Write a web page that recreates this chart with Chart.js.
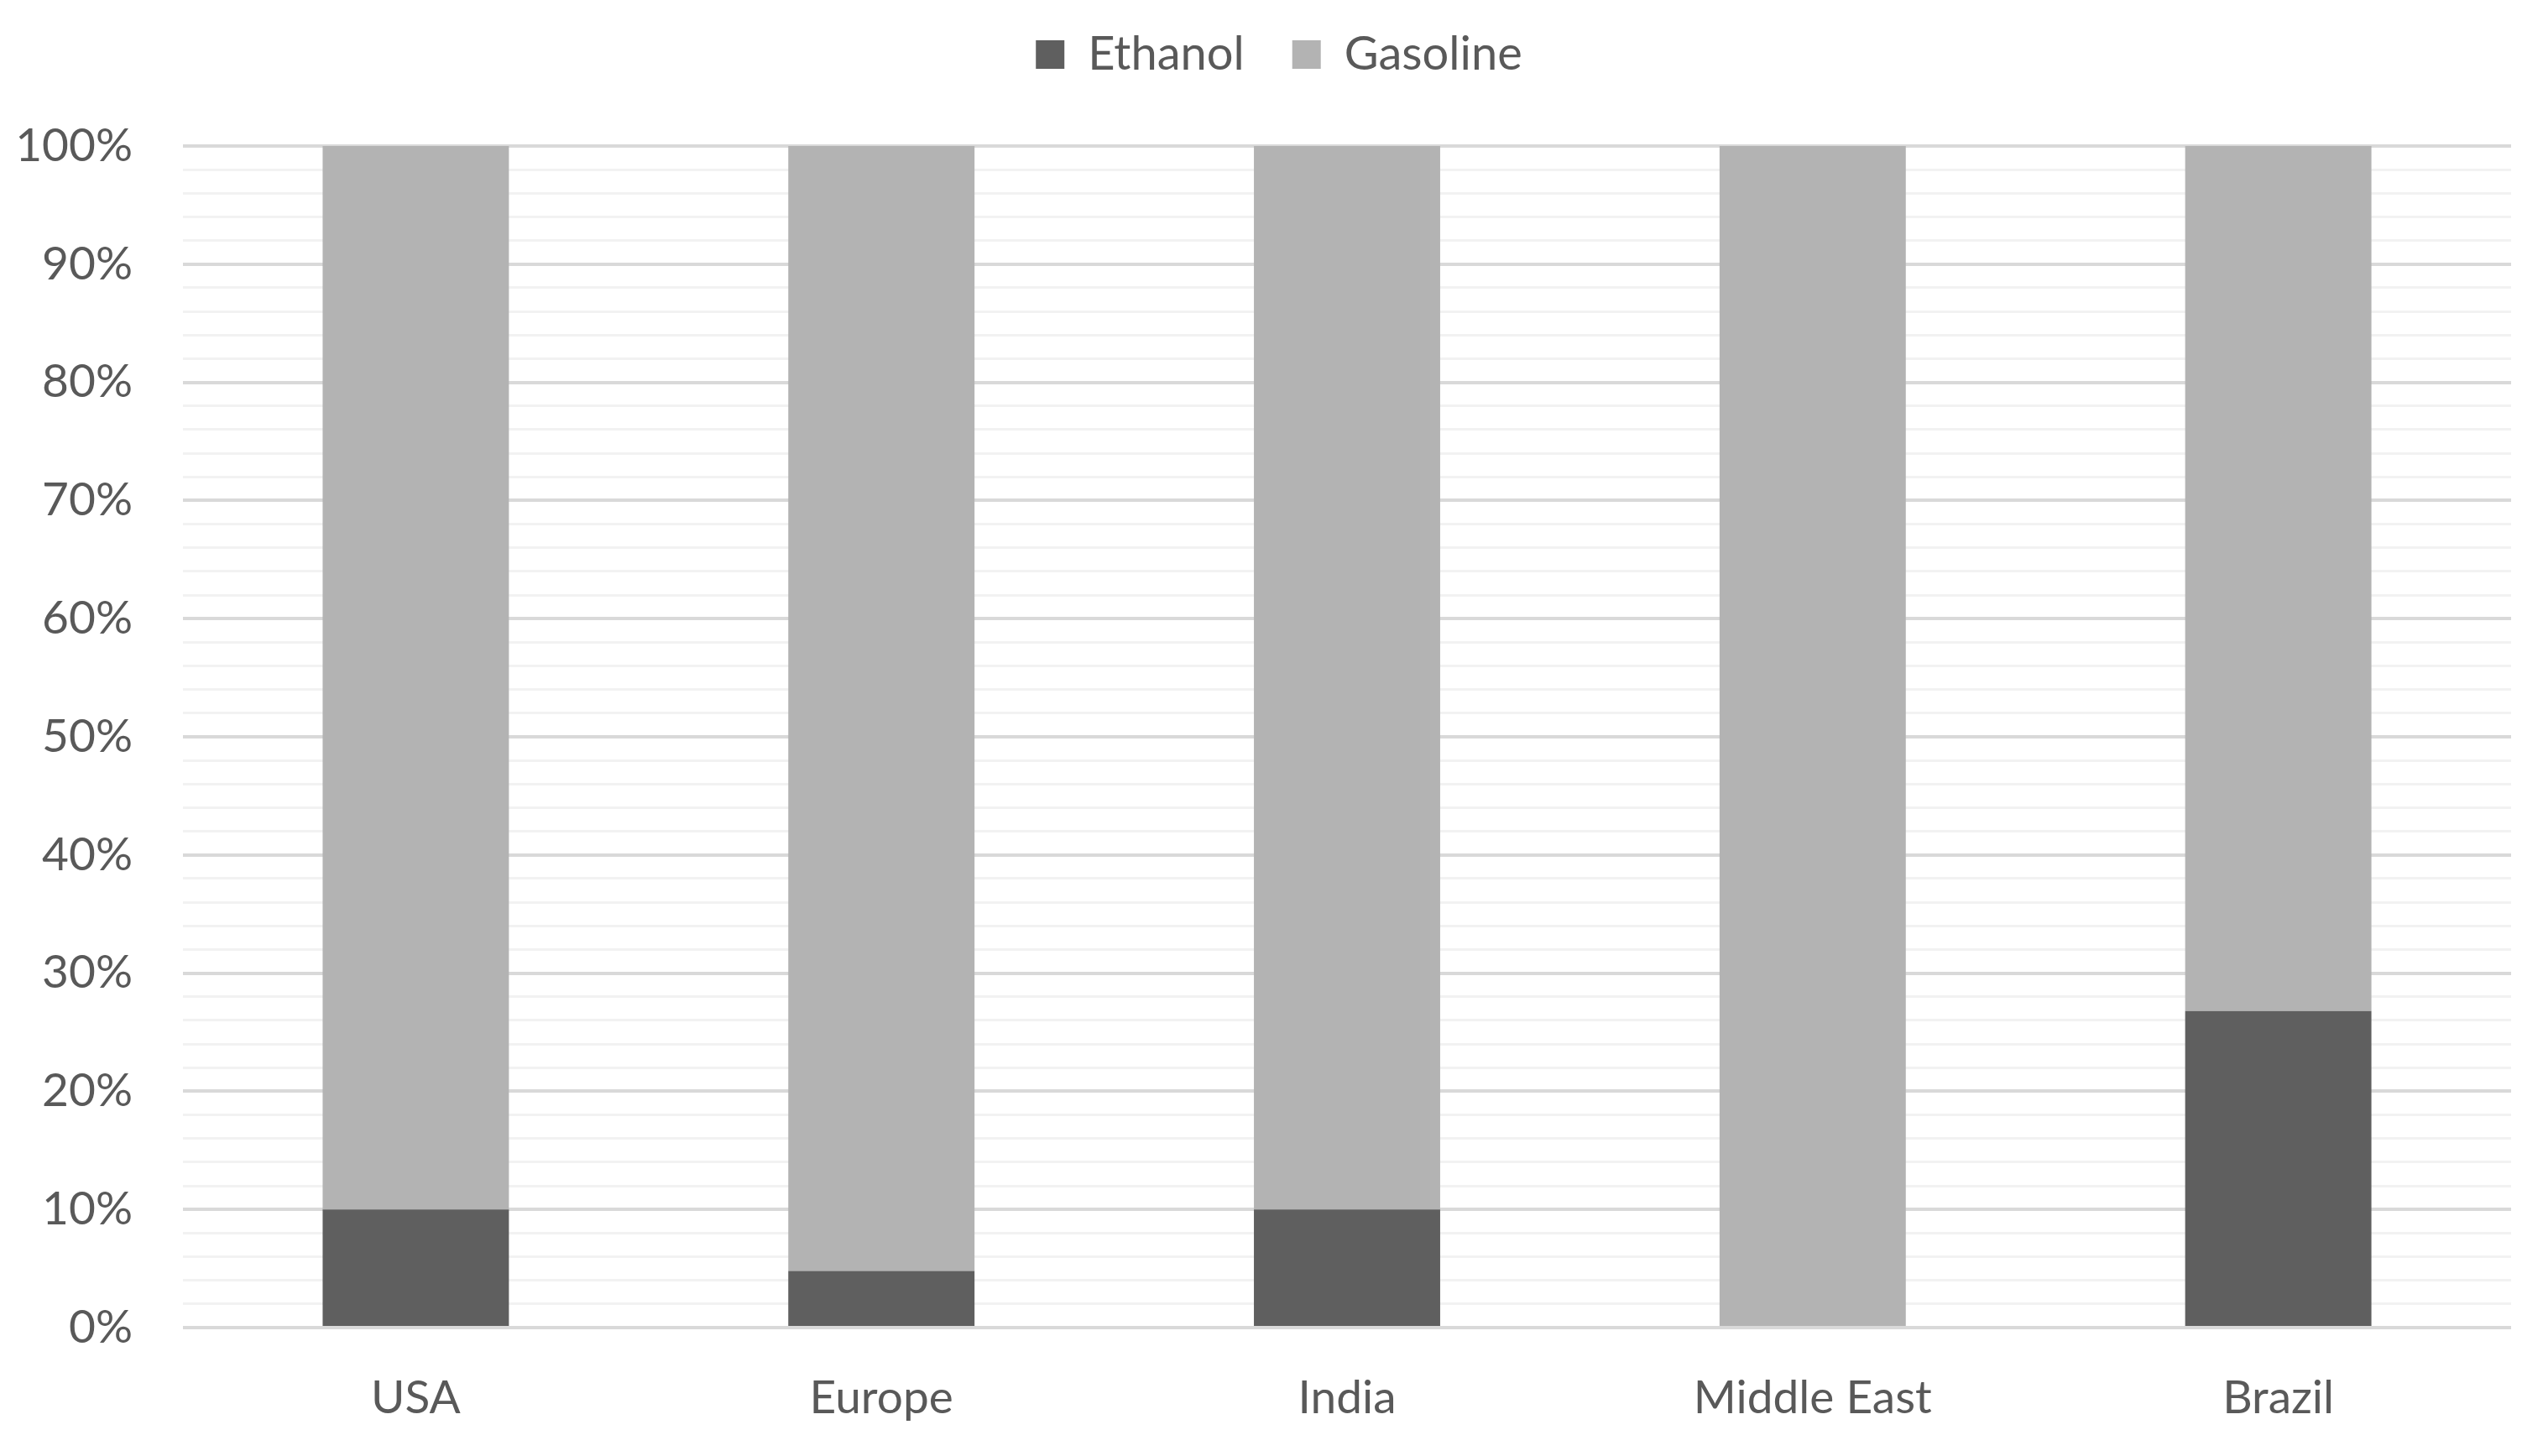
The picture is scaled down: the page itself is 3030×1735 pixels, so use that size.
<!DOCTYPE html>
<html>
<head>
<meta charset="utf-8">
<script src="https://cdn.jsdelivr.net/npm/chart.js@4/dist/chart.umd.min.js"></script>
<style>
  html, body { margin: 0; padding: 0; background: #ffffff; }
  #wrap { width: 3030px; height: 1735px; }
</style>
</head>
<body>
<div id="wrap"><canvas id="chart"></canvas></div>
<script>
// categories
var regions = ["USA", "Europe", "India", "Middle East", "Brazil"];

// share of fuel blend (%)
var ethanolShare = [10, 4.8, 10, 0, 26.8];
var gasolineShare = [90, 95.2, 90, 100, 73.2];

// y axis
var yMin = 0;
var yMax = 100;
var yMajorStep = 10;
var yMinorStep = 2;

var textColor = "#595959";
var fontFamily = "Lato, 'Noto Sans', sans-serif";

// legend の下に余白を足し、少し右へずらす
var legendMargin = {
    id: "legendMargin",
    beforeInit: function (chart) {
        var fit = chart.legend.fit;
        chart.legend.fit = function () {
            fit.bind(chart.legend)();
            this.height += 71;
        };
    },
    afterLayout: function (chart) {
        chart.legend.left += 28;
        chart.legend.right += 28;
    }
};

new Chart(document.getElementById("chart"), {
    type: "bar",
    data: {
        labels: regions,
        datasets: [
            {
                label: "Ethanol",
                data: ethanolShare,
                backgroundColor: "#5f5f5f",
                borderWidth: 0
            },
            {
                label: "Gasoline",
                data: gasolineShare,
                backgroundColor: "#b3b3b3",
                borderWidth: 0
            }
        ]
    },
    options: {
        responsive: true,
        maintainAspectRatio: false,
        animation: false,
        layout: {
            padding: { top: -20, right: 38, bottom: 0, left: 0 }
        },
        datasets: {
            bar: {
                categoryPercentage: 1.0,
                barPercentage: 0.4
            }
        },
        plugins: {
            tooltip: { enabled: false },
            legend: {
                position: "top",
                labels: {
                    boxWidth: 34,
                    boxHeight: 34,
                    padding: 57,
                    color: textColor,
                    font: { family: fontFamily, size: 56 }
                }
            }
        },
        scales: {
            x: {
                stacked: true,
                afterFit: function (scale) {
                    scale.height = 153;
                },
                grid: { display: false, drawTicks: false },
                border: { display: false },
                ticks: {
                    color: textColor,
                    padding: 51,
                    maxRotation: 0,
                    font: { family: fontFamily, size: 55 }
                }
            },
            y: {
                stacked: true,
                min: yMin,
                max: yMax,
                afterFit: function (scale) {
                    scale.width = 218;
                },
                border: { display: false },
                grid: {
                    drawTicks: false,
                    color: function (ctx) {
                        return ctx.tick && ctx.tick.value % yMajorStep === 0 ? "#d9d9d9" : "#f2f2f2";
                    },
                    lineWidth: function (ctx) {
                        return ctx.tick && ctx.tick.value % yMajorStep === 0 ? 4 : 3;
                    }
                },
                ticks: {
                    stepSize: yMinorStep,
                    autoSkip: false,
                    padding: 60,
                    color: textColor,
                    font: { family: fontFamily, size: 55 },
                    callback: function (value) {
                        return value % yMajorStep === 0 ? value + "%" : "";
                    }
                }
            }
        }
    },
    plugins: [legendMargin]
});
</script>
</body>
</html>
